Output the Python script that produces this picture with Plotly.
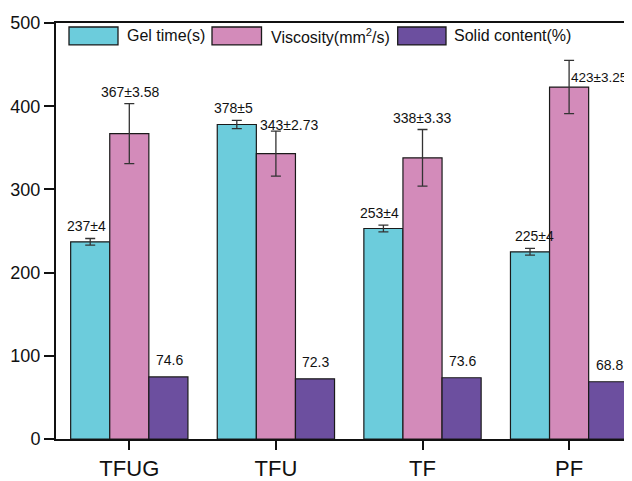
import plotly.graph_objects as go

# ---- data ----
categories = ["TFUG", "TFU", "TF", "PF"]
gel_time = [237, 378, 253, 225]
gel_err = [4, 5, 4, 4]
viscosity = [367, 343, 338, 423]
visc_err = [36, 27, 34, 32]
solid = [74.6, 72.3, 73.6, 68.8]
gel_labels = ["237±4", "378±5", "253±4", "225±4"]
visc_labels = ["367±3.58", "343±2.73", "338±3.33", "423±3.25"]
solid_labels = ["74.6", "72.3", "73.6", "68.8"]
series_names = ["Gel time(s)", "Viscosity(mm<sup>2</sup>/s)", "Solid content(%)"]
y_ticks = [0, 100, 200, 300, 400, 500]

# ---- style ----
colors = ["#6CCCDC", "#D38BBA", "#6C4F9F"]
FONT = "Arial, Liberation Sans, sans-serif"
OFF = 8  # default page body margin
W, H = 632 - OFF, 481 - OFF
ML, MR, MT, MB = 48, 0, 15, 40
bargap = 0.2
bw = (1 - bargap) / 3
offsets = [-bw, 0, bw]

xs = list(range(len(categories)))

fig = go.Figure()
series = [(gel_time, gel_err), (viscosity, visc_err), (solid, None)]
for k, (vals, err) in enumerate(series):
    kw = {}
    if err is not None:
        kw["error_y"] = dict(type="data", array=err, color="#333333",
                             thickness=1.3, width=5)
    fig.add_trace(go.Bar(x=xs, y=vals, name=series_names[k],
                         marker=dict(color=colors[k], line=dict(color="#1a1a1a", width=1.2)),
                         showlegend=False, **kw))

ann = []
lab_font = dict(family=FONT, size=14, color="#111111")
# gel labels
gel_dx = [-4, -3, -4, 4]
for i in xs:
    ann.append(dict(x=i + offsets[0], y=gel_time[i] + gel_err[i], xref="x", yref="y",
                    text=gel_labels[i], showarrow=False, font=lab_font,
                    xshift=gel_dx[i], yshift=12, yanchor="middle"))
# viscosity labels
visc_dx = [1, 14, 0, 0]
visc_dy = [12, 6, 12, 10]
for i in xs:
    if i == 3:
        ann.append(dict(x=i + offsets[1], y=viscosity[i], xref="x", yref="y",
                        text=visc_labels[i], showarrow=False,
                        font=dict(family=FONT, size=13.5, color="#111111"),
                        xshift=visc_dx[i], yshift=visc_dy[i], xanchor="left", yanchor="middle"))
    else:
        ann.append(dict(x=i + offsets[1], y=viscosity[i] + visc_err[i], xref="x", yref="y",
                        text=visc_labels[i], showarrow=False, font=lab_font,
                        xshift=visc_dx[i], yshift=visc_dy[i], yanchor="middle"))
# solid labels
for i in xs:
    ann.append(dict(x=i + offsets[2], y=solid[i], xref="x", yref="y",
                    text=solid_labels[i], showarrow=False, font=lab_font,
                    xshift=1, yshift=17, yanchor="middle"))

# manual legend (screen pixel -> paper)
pw, ph = W - ML - MR, H - MT - MB
def px(xp):
    return (xp - OFF - ML) / pw
def py(yp):
    return (H - MB - (yp - OFF)) / ph

sw_x = [(69, 118), (212, 261.5), (397.7, 446)]
txt_x = [125, 269, 452]
shapes = []
for k in range(3):
    shapes.append(dict(type="rect", xref="paper", yref="paper",
                       x0=px(sw_x[k][0]), x1=px(sw_x[k][1]), y0=py(45), y1=py(27),
                       fillcolor=colors[k], line=dict(color="#1a1a1a", width=1.3)))
    ann.append(dict(x=px(txt_x[k]), y=py(36), xref="paper", yref="paper",
                    text=series_names[k], showarrow=False, xanchor="left", yanchor="middle",
                    font=dict(family=FONT, size=16, color="#111111")))

span = pw / 146.6
fig.update_layout(
    width=W, height=H,
    margin=dict(l=ML, r=MR, t=MT, b=MB, pad=0),
    paper_bgcolor="white", plot_bgcolor="white",
    barmode="group", bargap=bargap, bargroupgap=0,
    showlegend=False,
    annotations=ann, shapes=shapes,
    font=dict(family=FONT, color="#111111"),
    xaxis=dict(range=[-0.5, -0.5 + span], tickvals=xs, ticktext=categories,
               showline=True, linecolor="#111111", linewidth=2, mirror=True,
               ticks="outside", ticklen=9, tickwidth=2, tickcolor="#111111",
               tickfont=dict(family=FONT, size=22, color="#111111"),
               showgrid=False, zeroline=False),
    yaxis=dict(range=[0, 500], tickvals=y_ticks,
               showline=True, linecolor="#111111", linewidth=2,
               ticks="outside", ticklen=10, tickwidth=2, tickcolor="#111111",
               tickfont=dict(family=FONT, size=18, color="#111111"),
               showgrid=False, zeroline=False),
)

fig.write_html("out.html")
